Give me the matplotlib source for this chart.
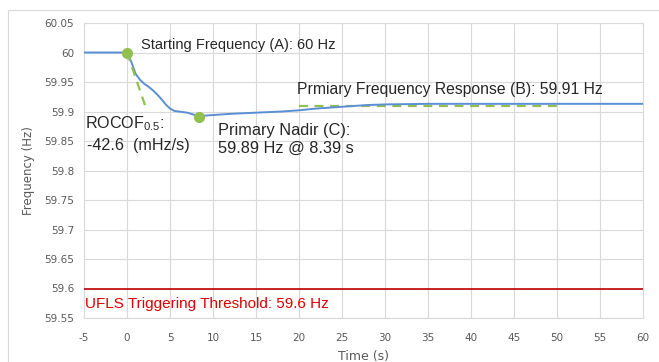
import numpy as np
import matplotlib
matplotlib.use("Agg")
import matplotlib.pyplot as plt
from matplotlib.patches import Rectangle

# frequency trace (s, Hz)
time_s = [-5, 0, 0.5, 1.0, 1.5, 2.0, 2.5, 3.0, 3.5, 4.0, 4.5, 5.0, 5.5, 6.0, 7.0,
          8.39, 9.0, 10.0, 12.0, 15.0, 18.0, 20.0, 22.0, 25.0, 28.0, 30.0, 35.0,
          40.0, 50.0, 60.0]
freq_hz = [60.0, 60.0, 59.984, 59.964, 59.954, 59.947, 59.942, 59.936, 59.929,
           59.921, 59.912, 59.905, 59.901, 59.9, 59.898, 59.892, 59.893, 59.894,
           59.896, 59.898, 59.9, 59.902, 59.905, 59.908, 59.911, 59.912, 59.913,
           59.913, 59.913, 59.913]

start_t, start_f = 0.0, 60.0
nadir_t, nadir_f = 8.39, 59.89
rocof = -0.0426          # Hz/s
rocof_end_t = 2.1
pfr_f = 59.91
pfr_span = [20, 50]
ufls_f = 59.6

blue = "#5b8fd4"
green = "#92c050"
red = "#c00000"
grey = "#595959"

fig = plt.figure(figsize=(6.59, 3.62), dpi=100)
fig.patches.append(Rectangle((8 / 659, -0.1), 1.0, 1.1 - 10 / 362, transform=fig.transFigure,
                             fill=False, edgecolor="#d9d9d9", linewidth=0.8))
ax = fig.add_axes([84 / 659, 1 - 318 / 362, (643 - 84) / 659, (318 - 23) / 362])

ax.plot(time_s, freq_hz, color=blue, linewidth=1.4, zorder=3)
ax.plot([start_t, rocof_end_t], [start_f, start_f + rocof * rocof_end_t],
        color=green, linestyle=(0, (4, 3)), linewidth=1.6, zorder=4)
ax.plot(pfr_span, [pfr_f, pfr_f], color=green, linestyle=(0, (4, 3)), linewidth=1.6, zorder=2)
ax.plot([start_t, nadir_t], [start_f, nadir_f], linestyle="none", marker="o",
        markersize=7, color=green, zorder=5)
ax.axhline(ufls_f, color=red, linewidth=1.2, zorder=3)

txt = dict(family="Liberation Sans", color="#262626", va="center")
ax.text(1.6, 60.013, "Starting Frequency (A): 60 Hz", fontsize=10.5, **txt)
ax.text(19.8, 59.938, "Prmiary Frequency Response (B): 59.91 Hz", fontsize=11.3, **txt)
ax.text(10.6, 59.868, "Primary Nadir (C):", fontsize=11.8, **txt)
ax.text(10.6, 59.838, "59.89 Hz @ 8.39 s", fontsize=11.8, **txt)
ax.text(-4.9, 59.879, r"ROCOF$_{\mathregular{0.5}}$:", fontsize=11.6, **txt)
ax.text(-4.6, 59.842, "-42.6  (mHz/s)", fontsize=11.6, **txt)
ax.text(-4.9, 59.573, "UFLS Triggering Threshold: 59.6 Hz", va="center",
        fontsize=11, family="Liberation Sans", color="#e00000")

ax.set_xlim(-5, 60)
ax.set_ylim(59.55, 60.05)
xt = np.arange(-5, 61, 5)
ax.set_xticks(xt)
ax.set_xticklabels([str(v) for v in xt])
ax.set_yticks(np.arange(59.55, 60.051, 0.05))
ax.set_yticklabels(["59.55", "59.6", "59.65", "59.7", "59.75", "59.8", "59.85",
                    "59.9", "59.95", "60", "60.05"])
ax.grid(color="#d9d9d9", linewidth=0.8)
ax.set_axisbelow(True)
for s in ax.spines.values():
    s.set_color("#d9d9d9")
ax.tick_params(length=0, labelsize=7.5, colors=grey)
ax.tick_params(axis="x", pad=11)
ax.tick_params(axis="y", pad=7)
ax.set_xlabel("Time (s)", fontsize=9, color=grey, labelpad=5)
ax.set_ylabel("Frequency (Hz)", fontsize=8.5, color=grey, labelpad=7)

fig.savefig("out.png", dpi=100)
